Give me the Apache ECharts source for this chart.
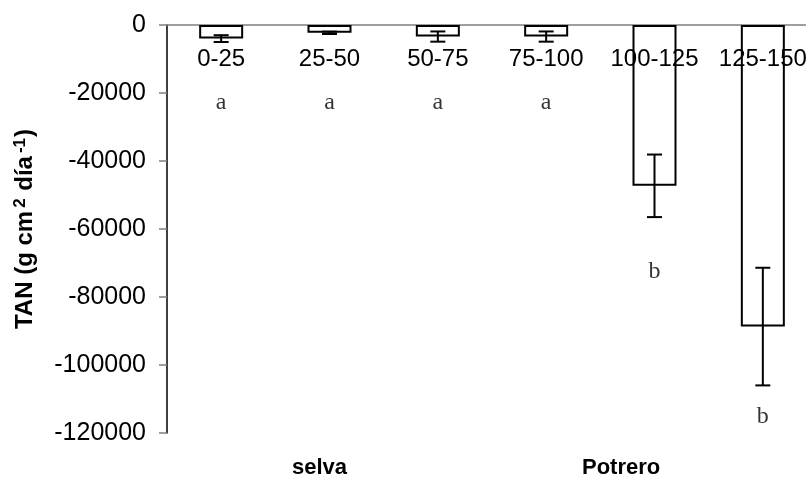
<!DOCTYPE html>
<html>
<head>
<meta charset="utf-8">
<script src="https://cdn.jsdelivr.net/npm/echarts@6/dist/echarts.min.js"></script>
<style>html,body{margin:0;padding:0;background:#fff;overflow:hidden;width:806px;height:489px;}#c{width:818px;height:489px;}</style>
</head>
<body>
<div id="c"></div>
<script>
var categories = ['0-25', '25-50', '50-75', '75-100', '100-125', '125-150'];
var values = [-4000, -2300, -3400, -3400, -47300, -88700];
var errors = [1000, 350, 1500, 1500, 9200, 17300];
var letters = ['a', 'a', 'a', 'a', 'b', 'b'];
var letterY = [-22900, -22900, -22900, -22900, -72600, -115300];
var yTicks = { min: -120000, max: 0, interval: 20000 };
var groups = ['selva', 'Potrero'];

var chart = echarts.init(document.getElementById('c'));
var errData = values.map(function (v, i) { return [i, v - errors[i], v + errors[i]]; });
var letterData = letters.map(function (l, i) { return { value: [i, letterY[i]], name: l }; });

chart.setOption({
  animation: false,
  grid: { left: 167, top: 25, height: 408, width: 650 },
  xAxis: {
    type: 'category',
    data: categories,
    position: 'top',
    axisLine: { onZero: false, lineStyle: { color: '#808080', width: 1.5 } },
    axisTick: { inside: true, length: 8, lineStyle: { color: '#333', width: 1 } },
    axisLabel: { inside: true, interval: 0, margin: 22, fontSize: 24, color: '#000', fontFamily: 'Liberation Sans' },
    splitLine: { show: false },
    z: 1
  },
  yAxis: {
    type: 'value',
    min: yTicks.min, max: yTicks.max, interval: yTicks.interval,
    name: 'TAN (g cm{sup|2} día{sup|-1})',
    nameLocation: 'middle',
    nameGap: 128,
    nameRotate: 90,
    nameTextStyle: {
      fontSize: 24, fontWeight: 'bold', color: '#000', fontFamily: 'Liberation Sans',
      rich: { sup: { fontSize: 17, fontWeight: 'bold', verticalAlign: 'top', fontFamily: 'Liberation Sans', color: '#000', padding: [0, 1, 10, 3] } }
    },
    axisLine: { show: true, lineStyle: { color: '#000', width: 1.5 } },
    axisTick: { show: true, length: 8, lineStyle: { color: '#808080', width: 1.5 } },
    axisLabel: { margin: 21, fontSize: 25, color: '#000', fontFamily: 'Liberation Sans', formatter: function (v) { return String(v); } },
    splitLine: { show: false }
  },
  series: [
    {
      type: 'bar',
      data: values,
      barWidth: 44,
      itemStyle: { color: 'rgba(255,255,255,0)', borderColor: '#000', borderWidth: 2 },
      z: 3
    },
    {
      type: 'custom',
      data: errData,
      z: 4,
      renderItem: function (params, api) {
        var x = api.value(0);
        var lo = api.coord([x, api.value(1)]);
        var hi = api.coord([x, api.value(2)]);
        var w = 7.5;
        var st = { stroke: '#000', lineWidth: 2 };
        return {
          type: 'group',
          children: [
            { type: 'line', shape: { x1: lo[0], y1: lo[1], x2: hi[0], y2: hi[1] }, style: st },
            { type: 'line', shape: { x1: lo[0] - w, y1: lo[1], x2: lo[0] + w, y2: lo[1] }, style: st },
            { type: 'line', shape: { x1: hi[0] - w, y1: hi[1], x2: hi[0] + w, y2: hi[1] }, style: st }
          ]
        };
      }
    },
    {
      type: 'scatter',
      data: letterData,
      symbolSize: 0,
      label: {
        show: true, position: 'inside', formatter: function (p) { return p.name; },
        fontSize: 24, color: '#000', fontFamily: 'Liberation Serif'
      },
      z: 5
    }
  ],
  graphic: [
    { type: 'text', left: 319 - 27, top: 457, style: { text: groups[0], fill: '#000', font: 'bold 22px "Liberation Sans"' } },
    { type: 'text', left: 620 - 38, top: 457, style: { text: groups[1], fill: '#000', font: 'bold 22px "Liberation Sans"' } }
  ]
});
</script>
</body>
</html>
